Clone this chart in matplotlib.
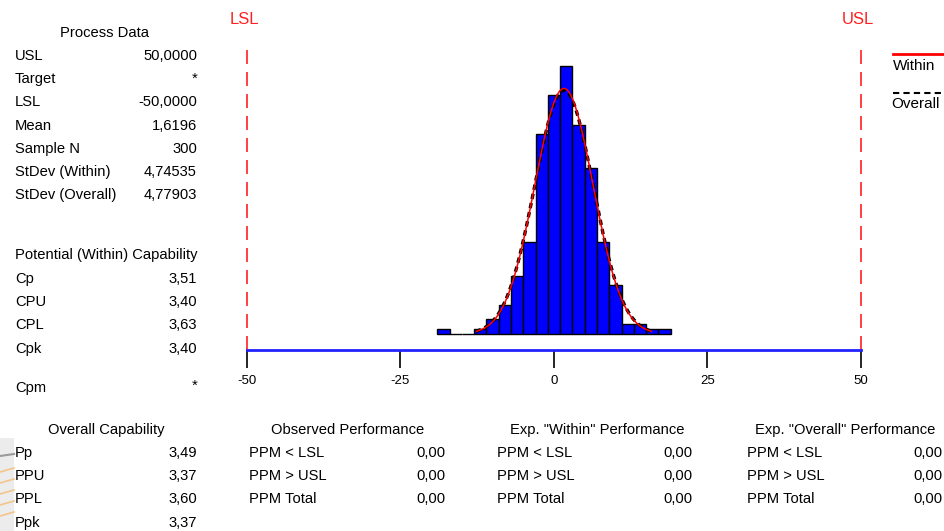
import numpy as np
import matplotlib
matplotlib.use("Agg")
import matplotlib.pyplot as plt
from matplotlib.patches import Rectangle

plt.rcParams['font.family'] = ['Liberation Sans', 'DejaVu Sans']

# ---- data ----
bin_edges = [-19, -17, -15, -13, -11, -9, -7, -5, -3, -1, 1, 3, 5, 7, 9, 11, 13, 15, 17, 19]
counts = [1, 0, 0, 1, 3, 6, 12, 19, 41, 49, 55, 43, 34, 19, 10, 2, 2, 1, 1]
usl, lsl = 50.0, -50.0
mean = 1.6196
n_sample = 300
sd_within = 4.74535
sd_overall = 4.77903
xticks = [-50, -25, 0, 25, 50]

process_labels = ["USL", "Target", "LSL", "Mean", "Sample N", "StDev (Within)", "StDev (Overall)"]
process_values = ["50,0000", "*", "-50,0000", "1,6196", "300", "4,74535", "4,77903"]
within_labels = ["Cp", "CPU", "CPL", "Cpk"]
within_values = ["3,51", "3,40", "3,63", "3,40"]
cpm_label, cpm_value = "Cpm", "*"
overall_labels = ["Pp", "PPU", "PPL", "Ppk"]
overall_values = ["3,49", "3,37", "3,60", "3,37"]
ppm_labels = ["PPM < LSL", "PPM > USL", "PPM Total"]
observed_values = ["0,00", "0,00", "0,00"]
exp_within_values = ["0,00", "0,00", "0,00"]
exp_overall_values = ["0,00", "0,00", "0,00"]

W, H = 945, 531
fig = plt.figure(figsize=(W / 100, H / 100), dpi=100)

def fx(px):
    return px / W

def fy(py):
    return 1 - py / H

# faint decoration at bottom-left edge
fig.add_artist(Rectangle((0, 0), fx(14), fy(438), transform=fig.transFigure,
                         facecolor='#ececec', edgecolor='none', zorder=0))
fig.add_artist(plt.Line2D([0, fx(14)], [fy(456), fy(454)], color='#9a9a9a', linewidth=1.5))
for yy in (468, 479, 490, 501, 512):
    fig.add_artist(plt.Line2D([0, fx(14)], [fy(yy + 4), fy(yy)], color='#f2c58a', linewidth=1.2))

# ---- main histogram axes ----
ylo, yhi = -3.29, 60.4
ax = fig.add_axes([fx(247), fy(350), fx(861) - fx(247), fy(40) - fy(350)])
ax.set_xlim(-50, 50)
ax.set_ylim(ylo, yhi)
edges = np.array(bin_edges, dtype=float)
ax.bar(edges[:-1], counts, width=np.diff(edges), align='edge',
       color='#0000ff', edgecolor='black', linewidth=1.0, zorder=2)

def curve(sd):
    x = np.linspace(mean - 3 * sd, mean + 3 * sd, 300)
    y = n_sample * 2.0 / (sd * np.sqrt(2 * np.pi)) * np.exp(-0.5 * ((x - mean) / sd) ** 2)
    return x, y

xo, yo = curve(sd_overall)
ax.plot(xo, yo, color='black', linestyle=(0, (1.6, 1.2)), linewidth=2.4, zorder=3)
xw, yw = curve(sd_within)
ax.plot(xw, yw, color='red', linewidth=1.1, zorder=4)

for v in (lsl, usl):
    ax.plot([v, v], [ylo, 58.5], color='#ff2020', linestyle=(0, (8.4, 4.8)), linewidth=1.2,
            zorder=1, clip_on=False)

for s in ['top', 'right', 'left']:
    ax.spines[s].set_visible(False)
ax.spines['bottom'].set_color('#2222ff')
ax.spines['bottom'].set_linewidth(2)
ax.spines['bottom'].set_zorder(5)
ax.set_yticks([])
ax.set_xticks(xticks)
ax.set_xticklabels([str(t) for t in xticks])
ax.tick_params(axis='x', direction='out', length=13, width=1.2, color='black',
               labelsize=9.5, pad=5)

# LSL / USL labels
fig.text(fx(230), fy(20), "LSL", color='#ff2020', fontsize=12, va='center', ha='left')
fig.text(fx(842), fy(20), "USL", color='#ff2020', fontsize=12, va='center', ha='left')

# legend
fig.add_artist(plt.Line2D([fx(893), fx(945)], [fy(54), fy(54)], color='red', linewidth=2))
fig.text(fx(893), fy(66), "Within", fontsize=11, va='center', ha='left')
fig.add_artist(plt.Line2D([fx(893), fx(945)], [fy(93), fy(93)], color='black', linewidth=1.5,
                          linestyle=(0, (3, 2))))
fig.text(fx(891), fy(104), "Overall", fontsize=11, va='center', ha='left')

FS = 10.6

def table(title, title_x, title_y, labels, values, lab_x, val_x, y0, dy=23.2):
    fig.text(fx(title_x), fy(title_y), title, fontsize=FS, ha='center', va='center')
    for i, (l, v) in enumerate(zip(labels, values)):
        y = y0 + i * dy
        fig.text(fx(lab_x), fy(y), l, fontsize=FS, ha='left', va='center')
        fig.text(fx(val_x), fy(y), v, fontsize=FS, ha='right', va='center')

table("Process Data", 105, 33, process_labels, process_values, 15, 197, 56)
table("Potential (Within) Capability", 106, 255, within_labels, within_values, 15, 197, 279)
fig.text(fx(15), fy(388), cpm_label, fontsize=FS, ha='left', va='center')
fig.text(fx(197), fy(386), cpm_value, fontsize=FS, ha='right', va='center')

table("Overall Capability", 106, 430, overall_labels, overall_values, 15, 197, 453)
table("Observed Performance", 348, 430, ppm_labels, observed_values, 249, 446, 453)
table('Exp. "Within" Performance', 597, 430, ppm_labels, exp_within_values, 497, 693, 453)
table('Exp. "Overall" Performance', 845, 430, ppm_labels, exp_overall_values, 747, 943, 453)

fig.savefig("out.png", dpi=100)
